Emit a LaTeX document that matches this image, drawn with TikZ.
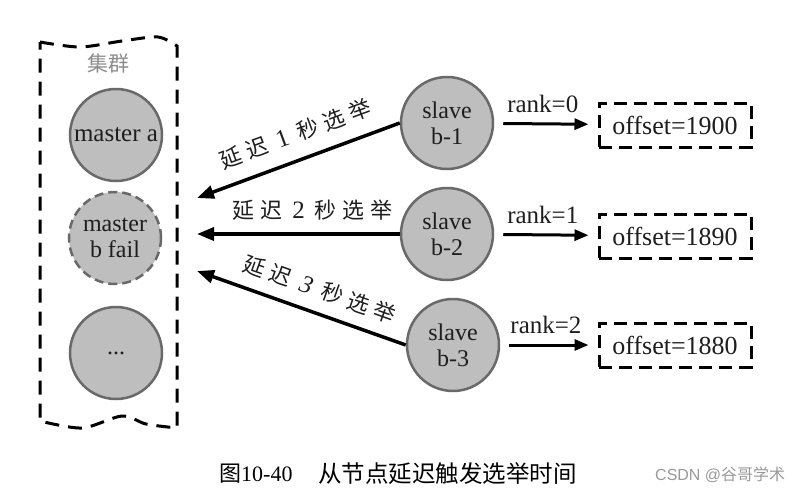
\documentclass[tikz,border=0pt]{standalone}
\usepackage{fontspec}
\setmainfont{Liberation Serif}
\newfontfamily\cjk{Noto Sans CJK SC}
\newfontfamily\sansf{Liberation Sans}
\usetikzlibrary{arrows.meta}
\definecolor{fillg}{RGB}{190,190,190}
\definecolor{rimg}{RGB}{105,105,105}
\definecolor{txtg}{RGB}{30,30,30}
\begin{document}
\begin{tikzpicture}[x=1pt,y=-1pt,
  circ/.style={circle,fill=fillg,draw=rimg,line width=2.5pt,minimum size=92pt,inner sep=0pt,
    align=center,text=txtg,font=\fontsize{24}{26}\selectfont},
  failcirc/.style={circ,dash pattern=on 9pt off 5pt},
  offbox/.style={draw=black,line width=3pt,dash pattern=on 13pt off 7pt,minimum width=152pt,
    minimum height=44pt,inner sep=0pt,text=txtg,font=\fontsize{26}{26}\selectfont},
  clusterline/.style={draw=black,line width=3pt,dash pattern=on 14pt off 9pt},
  elect/.style={line width=3.5pt,-{Triangle[length=17pt,width=13pt]}},
  rankarr/.style={line width=3pt,-{Triangle[length=14pt,width=11pt]},shorten <=9pt,shorten >=9pt},
  ranklbl/.style={font=\fontsize{25}{25}\selectfont,text=txtg,inner sep=0pt},
  dlbl/.style={font=\cjk\fontsize{22}{22}\selectfont,text=txtg,inner sep=0pt},
]
\useasboundingbox (0,0) rectangle (806,498);

% cluster border
\draw[clusterline] plot[smooth] coordinates {(40,42) (80,47) (122,41) (158,37) (177,46)}
  -- plot[smooth] coordinates {(177,428) (146,424) (122,416) (82,428) (40,421)} -- cycle;
\node[font=\cjk\fontsize{21}{22}\selectfont,text=gray!90] (lbl) at (108,63) {集群};

% masters
\node[circ,font=\fontsize{25}{26}\selectfont] (ma) at (116,135) {master a};
\node[failcirc] (mb) at (115,238) {master\\b fail};
\node[circ] (mc) at (116,353) {...};

% slaves
\node[circ] (s1) at (447,123) {slave\\b-1};
\node[circ] (s2) at (447,234) {slave\\b-2};
\node[circ] (s3) at (453,345) {slave\\b-3};

% offset boxes
\node[offbox] (o1) at (675,125) {offset=1900};
\node[offbox] (o2) at (675,236) {offset=1890};
\node[offbox] (o3) at (675,345) {offset=1880};

% rank arrows
\draw[rankarr] (s1) -- node[ranklbl,above=10pt,pos=0.47] {rank=0} (o1);
\draw[rankarr] (s2) -- node[ranklbl,above=10pt,pos=0.47] {rank=1} (o2);
\draw[rankarr] (s3) -- node[ranklbl,above=10pt,pos=0.47] {rank=2} (o3);

% election arrows
\coordinate (e1) at (197,198);
\coordinate (e2) at (197,234);
\coordinate (e3) at (197,271);
\draw[elect] (s1.west) -- node[dlbl,sloped,above=14pt,pos=0.47] {延\hspace{6pt}迟\hspace{10pt}{\rmfamily\fontsize{25}{25}\selectfont 1}\hspace{10pt}秒\hspace{6pt}选\hspace{6pt}举} (e1);
\draw[elect] (s2.west) -- node[dlbl,above=12pt,pos=0.43] {延\hspace{6pt}迟\hspace{10pt}{\rmfamily\fontsize{25}{25}\selectfont 2}\hspace{10pt}秒\hspace{6pt}选\hspace{6pt}举} (e2);
\draw[elect] (s3.west) -- node[dlbl,sloped,above=12pt,pos=0.45] {延\hspace{6pt}迟\hspace{10pt}{\rmfamily\itshape\fontsize{25}{25}\selectfont 3}\hspace{10pt}秒\hspace{6pt}选\hspace{6pt}举} (e3);

% caption
\node[anchor=west,inner sep=0pt,font=\cjk\fontsize{22}{23}\selectfont] (cap1) at (219,474) {图{\rmfamily 10-40}};
\node[anchor=west,inner sep=0pt,font=\cjk\fontsize{23.5}{24}\selectfont] (cap2) at (318,474) {从节点延迟触发选举时间};
\node[anchor=west,inner sep=0pt,text=gray!80,font=\fontsize{16}{17}\selectfont] (csdn) at (655,475) {{\sansf CSDN @}{\cjk 谷哥学术}};
\end{tikzpicture}
\end{document}
